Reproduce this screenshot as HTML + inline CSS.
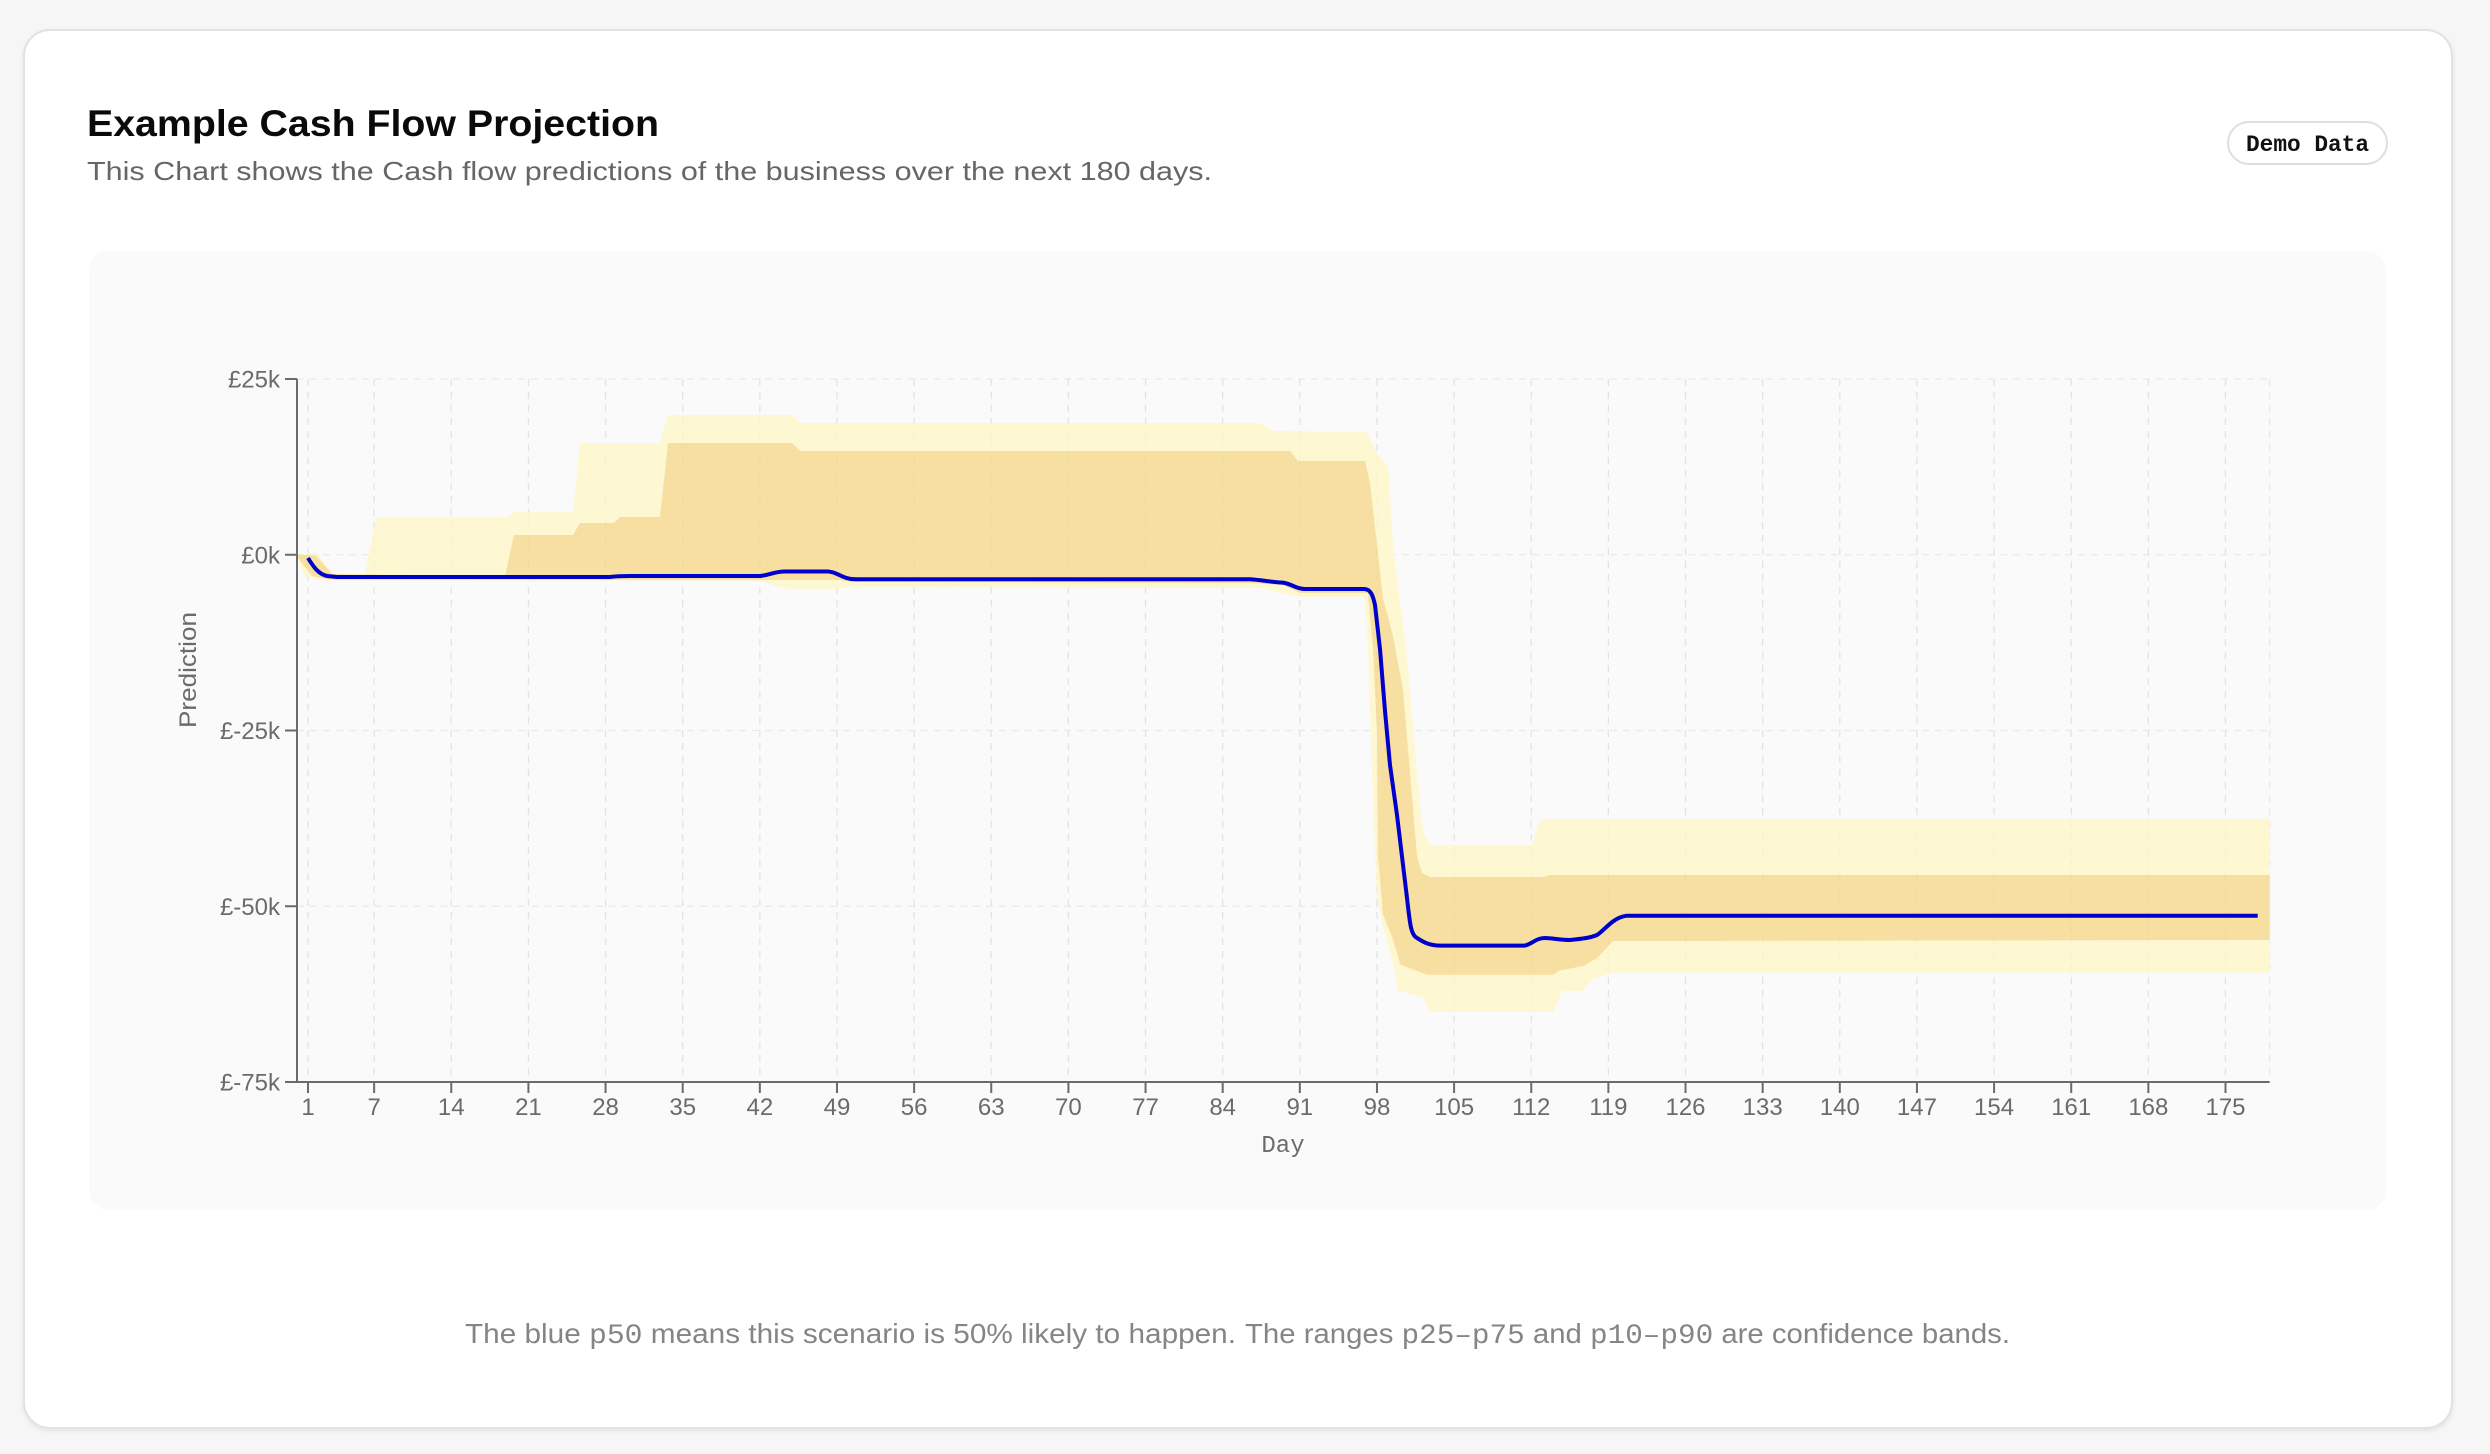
<!DOCTYPE html>
<html>
<head>
<meta charset="utf-8">
<style>
html,body{margin:0;padding:0;background:#f6f6f6;}
svg{display:block;}
</style>
</head>
<body>
<svg width="2490" height="1454" viewBox="0 0 2490 1454" xmlns="http://www.w3.org/2000/svg">
<defs>
<filter id="sh" x="-5%" y="-5%" width="110%" height="110%">
<feDropShadow dx="0" dy="2" stdDeviation="2" flood-color="#000" flood-opacity="0.08"/>
</filter>
</defs>
<rect x="0" y="0" width="2490" height="1454" fill="#f6f6f6"/>
<!-- card -->
<rect x="24" y="30" width="2428" height="1398" rx="26" ry="26" fill="#ffffff" stroke="#e2e2e2" stroke-width="2" filter="url(#sh)"/>

<!-- header -->
<text x="87" y="136" font-family="Liberation Sans, sans-serif" font-weight="bold" font-size="37" fill="#0a0a0a" textLength="572" lengthAdjust="spacingAndGlyphs">Example Cash Flow Projection</text>
<text x="87" y="180" font-family="Liberation Sans, sans-serif" font-size="26" fill="#666666" textLength="1125" lengthAdjust="spacingAndGlyphs">This Chart shows the Cash flow predictions of the business over the next 180 days.</text>

<!-- badge -->
<rect x="2228" y="122" width="159" height="42" rx="21" ry="21" fill="#ffffff" stroke="#dedede" stroke-width="2"/>
<text x="2307.5" y="151" text-anchor="middle" font-family="Liberation Mono, monospace" font-weight="bold" font-size="23" fill="#111111" textLength="123" lengthAdjust="spacingAndGlyphs">Demo Data</text>

<!-- chart panel -->
<rect x="89" y="251" width="2297" height="959" rx="20" ry="20" fill="#fafafa"/>

<!-- grid -->
<g stroke="#e9e9e9" stroke-width="1.3" stroke-dasharray="7 6" fill="none">
<path d="M297 379H2269.6M297 554.75H2269.6M297 730.5H2269.6M297 906.25H2269.6"/>
<path d="M308.02 379V1082M374.14 379V1082M451.28 379V1082M528.42 379V1082M605.56 379V1082M682.7 379V1082M759.84 379V1082M836.98 379V1082M914.12 379V1082M991.26 379V1082M1068.4 379V1082M1145.54 379V1082M1222.68 379V1082M1299.82 379V1082M1376.96 379V1082M1454.1 379V1082M1531.24 379V1082M1608.38 379V1082M1685.52 379V1082M1762.66 379V1082M1839.8 379V1082M1916.94 379V1082M1994.08 379V1082M2071.22 379V1082M2148.36 379V1082M2225.5 379V1082M2269.6 379V1082"/>
</g>

<!-- outer band p10-p90 -->
<path fill="#fdf7d2" d="
M297 554.5 L318 554.5 L335 575 L364 577 L376 517 L508 517 L514 512 L573 512 L580 443 L660 443 L668 415 L792 415 L800 423 L1260 423 L1273 431 L1367 432 L1377 454 L1388 466 L1393 545 L1407 657 L1417 773 L1423 831 L1430 845 L1532 845 L1540 819 L2269.6 819
L2269.6 972.6 L1613 972.6 L1593 979 L1583 991 L1562 991 L1553 1012 L1430 1012 L1423 997.5 L1407 993 L1398 991 L1393 964 L1383 927 L1377 898 L1372 773 L1368 649 L1365 597 L1300 597 L1290 595 L1260 588 L850 587 L835 589 L790 589 L775 586 L760 580.7 L320 580.5 L305 576 L297 557 Z"/>

<!-- inner band p25-p75 -->
<path fill="#f6dfa0" d="
M297 554.5 L316 555.5 L332 574 L505 576 L514 535 L573 535 L580 523 L614 523 L620 517 L660 517 L668 443 L792 443 L800 451 L1290 451 L1298 461 L1365 461 L1370 483 L1377 545 L1383 599 L1393 636 L1403 690 L1410 773 L1417 856 L1422 873 L1430 877 L1543 877 L1550 875 L2269.6 875
L2269.6 940 L1613 941 L1597 958 L1583 966 L1560 970.5 L1553 974.7 L1427 974.7 L1408 967.6 L1400 964 L1393 939 L1383 914.5 L1378 856 L1377 732 L1373 649 L1368 593 L1300 593 L1283 585 L1250 583 L850 582 L840 580 L330 579.5 L312 576 L297 557 Z"/>

<!-- faint grid over bands -->
<g stroke="#000" stroke-opacity="0.025" stroke-width="1.3" stroke-dasharray="7 6" fill="none">
<path d="M308.02 379V1082M374.14 379V1082M451.28 379V1082M528.42 379V1082M605.56 379V1082M682.7 379V1082M759.84 379V1082M836.98 379V1082M914.12 379V1082M991.26 379V1082M1068.4 379V1082M1145.54 379V1082M1222.68 379V1082M1299.82 379V1082M1376.96 379V1082M1454.1 379V1082M1531.24 379V1082M1608.38 379V1082M1685.52 379V1082M1762.66 379V1082M1839.8 379V1082M1916.94 379V1082M1994.08 379V1082M2071.22 379V1082M2148.36 379V1082M2225.5 379V1082"/>
</g>

<!-- p50 line -->
<path fill="none" stroke="#0000cc" stroke-width="4" stroke-linejoin="round" d="
M308 558 C313 566 318 574 327 576 L337 577 L610 577 C617 576 620 576 630 576 L760 576 C770 575 774 571.5 785 571.5 L828 571.5 C838 572 842 579.3 856 579.3 L1250 579.3 C1262 580 1270 582 1283 582.6 C1292 584 1296 589 1305 589 L1364 589 C1371 589 1373 596 1375 605 L1380 649 L1385 711 L1390 765 L1397 815 L1407 898 C1410 925 1411 935 1417 938 C1422 941 1428 945.6 1440 945.6 L1525 945.6 C1532 944 1536 938 1545 938 C1552 938 1560 940 1570 940 C1580 939 1590 938 1597 935 C1604 931 1612 918 1626 915.8 L2257.7 915.8"/>

<!-- axes -->
<g stroke="#6b6b6b" stroke-width="2" fill="none">
<path d="M297 379V1083M296 1082H2269.6"/>
<path d="M285 379H297M285 554.75H297M285 730.5H297M285 906.25H297M285 1082H297"/>
<path d="M308.02 1082V1093M374.14 1082V1093M451.28 1082V1093M528.42 1082V1093M605.56 1082V1093M682.7 1082V1093M759.84 1082V1093M836.98 1082V1093M914.12 1082V1093M991.26 1082V1093M1068.4 1082V1093M1145.54 1082V1093M1222.68 1082V1093M1299.82 1082V1093M1376.96 1082V1093M1454.1 1082V1093M1531.24 1082V1093M1608.38 1082V1093M1685.52 1082V1093M1762.66 1082V1093M1839.8 1082V1093M1916.94 1082V1093M1994.08 1082V1093M2071.22 1082V1093M2148.36 1082V1093M2225.5 1082V1093"/>
</g>

<!-- y tick labels -->
<g font-family="Liberation Sans, sans-serif" font-size="24" fill="#6b6b6b" text-anchor="end">
<text x="280" y="387.5">£25k</text>
<text x="280" y="563.25">£0k</text>
<text x="280" y="739">£-25k</text>
<text x="280" y="914.75">£-50k</text>
<text x="280" y="1090.5">£-75k</text>
</g>

<!-- x tick labels -->
<g font-family="Liberation Sans, sans-serif" font-size="24" fill="#6b6b6b" text-anchor="middle">
<text x="308.02" y="1115">1</text>
<text x="374.14" y="1115">7</text>
<text x="451.28" y="1115">14</text>
<text x="528.42" y="1115">21</text>
<text x="605.56" y="1115">28</text>
<text x="682.7" y="1115">35</text>
<text x="759.84" y="1115">42</text>
<text x="836.98" y="1115">49</text>
<text x="914.12" y="1115">56</text>
<text x="991.26" y="1115">63</text>
<text x="1068.4" y="1115">70</text>
<text x="1145.54" y="1115">77</text>
<text x="1222.68" y="1115">84</text>
<text x="1299.82" y="1115">91</text>
<text x="1376.96" y="1115">98</text>
<text x="1454.1" y="1115">105</text>
<text x="1531.24" y="1115">112</text>
<text x="1608.38" y="1115">119</text>
<text x="1685.52" y="1115">126</text>
<text x="1762.66" y="1115">133</text>
<text x="1839.8" y="1115">140</text>
<text x="1916.94" y="1115">147</text>
<text x="1994.08" y="1115">154</text>
<text x="2071.22" y="1115">161</text>
<text x="2148.36" y="1115">168</text>
<text x="2225.5" y="1115">175</text>
</g>

<!-- axis titles -->
<text x="1283" y="1152" text-anchor="middle" font-family="Liberation Mono, monospace" font-size="24" fill="#6b6b6b">Day</text>
<text transform="translate(196,670) rotate(-90)" x="0" y="0" text-anchor="middle" font-family="Liberation Sans, sans-serif" font-size="24" fill="#6b6b6b" textLength="116" lengthAdjust="spacingAndGlyphs">Prediction</text>

<!-- footer -->
<text x="465" y="1343" font-family="Liberation Sans, sans-serif" font-size="28" fill="#858585" textLength="771" lengthAdjust="spacingAndGlyphs">The blue <tspan font-family="Liberation Mono, monospace">p50</tspan> means this scenario is 50% likely to happen.</text>
<text x="1245" y="1343" font-family="Liberation Sans, sans-serif" font-size="28" fill="#858585" textLength="765" lengthAdjust="spacingAndGlyphs">The ranges <tspan font-family="Liberation Mono, monospace">p25–p75</tspan> and <tspan font-family="Liberation Mono, monospace">p10–p90</tspan> are confidence bands.</text>
</svg>
</body>
</html>
